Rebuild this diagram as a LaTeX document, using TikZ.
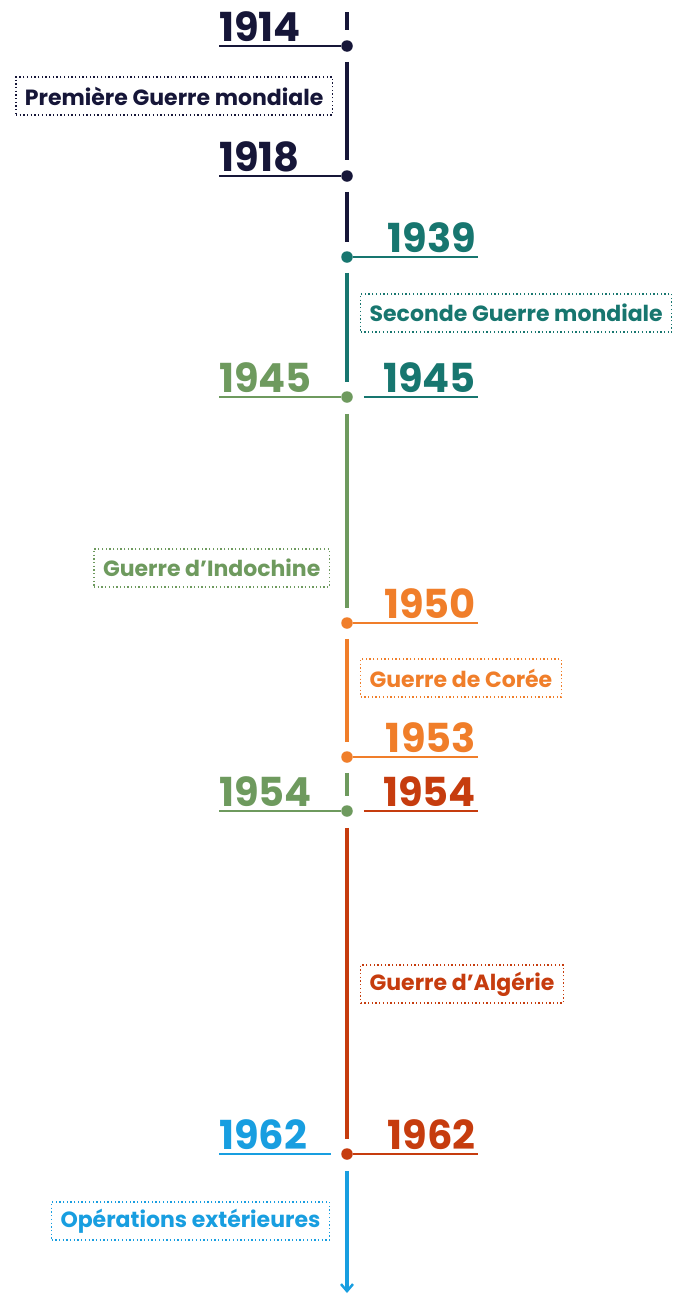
\documentclass[tikz,border=0pt]{standalone}
\usepackage{fontspec}
\setmainfont{Poppins}
\usetikzlibrary{positioning,arrows.meta}

\definecolor{marine}{HTML}{161638}
\definecolor{canard}{HTML}{17766F}
\definecolor{olive}{HTML}{6E9A5E}
\definecolor{orangec}{HTML}{F07E2A}
\definecolor{brique}{HTML}{C63C0E}
\definecolor{azur}{HTML}{189EE0}

\tikzset{
  jalon/.style={circle,fill=#1,inner sep=0pt,minimum size=11.5pt},
  axe/.style={line width=4pt,#1},
  trait/.style={line width=2.8pt,#1},
  annee/.style={text=#1,inner sep=0pt,font=\bfseries\fontsize{40}{40}\selectfont},
  periode/.style={draw=#1,text=#1,line width=1.3pt,dash pattern=on 1.3pt off 2.4pt,
    inner xsep=9pt,minimum height=38pt,font=\bfseries\fontsize{22}{22}\selectfont}
}

\begin{document}
\begin{tikzpicture}[x=1pt,y=-1pt]
    \useasboundingbox (0,0) rectangle (675,1296);

    % jalons sur l'axe
    \coordinate (haut) at (347,12);
    \node[jalon=marine] (d1914) at (347,46) {};
    \node[jalon=marine] (d1918) at (347,176) {};
    \node[jalon=canard] (d1939) at (347,257) {};
    \node[jalon=olive] (d1945) at (347,397) {};
    \node[jalon=orangec] (d1950) at (347,623) {};
    \node[jalon=orangec] (d1953) at (347,757) {};
    \node[jalon=olive] (d1954) at (347,811) {};
    \node[jalon=brique] (d1962) at (347,1154) {};
    \coordinate (bas) at (347,1293);

    % axe
    \draw[axe=marine, shorten >=10pt] (haut) -- (d1914);
    \draw[axe=marine, shorten <=10pt, shorten >=10pt] (d1914) -- (d1918);
    \draw[axe=marine, shorten <=10pt, shorten >=9pt] (d1918) -- (d1939);
    \draw[axe=canard, shorten <=10pt, shorten >=9pt] (d1939) -- (d1945);
    \draw[axe=olive, shorten <=11pt, shorten >=9pt] (d1945) -- (d1950);
    \draw[axe=orangec, shorten <=10pt, shorten >=9pt] (d1950) -- (d1953);
    \draw[axe=olive, shorten <=10pt, shorten >=9pt] (d1953) -- (d1954);
    \draw[axe=brique, shorten <=11pt, shorten >=9pt] (d1954) -- (d1962);
    \draw[axe=azur, shorten <=11pt, -{Straight Barb[length=7pt,width=12pt,line width=2.5pt]}] (d1962) -- (bas);

    % traits a gauche
    \coordinate (g1914) at (219,46);
    \coordinate (g1918) at (219,176);
    \coordinate (g1945) at (219,397);
    \coordinate (g1954) at (219,811);
    \coordinate (g1962) at (219,1154);
    \draw[trait=marine] (g1914) -- (d1914);
    \draw[trait=marine] (g1918) -- (d1918);
    \draw[trait=olive] (g1945) -- (d1945);
    \draw[trait=olive] (g1954) -- (d1954);
    \draw[trait=azur, shorten >=10pt] (g1962) -- (d1962);

    % traits a droite
    \coordinate (r1939) at (478,257);
    \coordinate (r1945) at (478,397);
    \coordinate (r1950) at (478,623);
    \coordinate (r1953) at (478,757);
    \coordinate (r1954) at (478,811);
    \coordinate (r1962) at (478,1154);
    \draw[trait=canard] (d1939) -- (r1939);
    \draw[trait=canard, shorten <=11pt] (d1945) -- (r1945);
    \draw[trait=orangec] (d1950) -- (r1950);
    \draw[trait=orangec] (d1953) -- (r1953);
    \draw[trait=brique, shorten <=11pt] (d1954) -- (r1954);
    \draw[trait=brique] (d1962) -- (r1962);

    % annees
    \node[annee=marine, above right=4pt and 0pt of g1914] (a1914) {1914};
    \node[annee=marine, above right=4pt and 0pt of g1918] (a1918) {1918};
    \node[annee=olive, above right=4pt and 0pt of g1945] (a1945g) {1945};
    \node[annee=olive, above right=4pt and 0pt of g1954] (a1954g) {1954};
    \node[annee=azur, above right=4pt and 0pt of g1962] (a1962g) {1962};
    \node[annee=canard, above left=4pt and 2pt of r1939] (a1939) {1939};
    \node[annee=canard, above left=4pt and 2pt of r1945] (a1945d) {1945};
    \node[annee=orangec, above left=4pt and 2pt of r1950] (a1950) {1950};
    \node[annee=orangec, above left=4pt and 2pt of r1953] (a1953) {1953};
    \node[annee=brique, above left=4pt and 2pt of r1954] (a1954d) {1954};
    \node[annee=brique, above left=4pt and 2pt of r1962] (a1962d) {1962};

    % periodes
    \node[periode=marine, anchor=east] (p1) at (333,96) {Première Guerre mondiale};
    \node[periode=canard, anchor=west] (p2) at (360,313) {Seconde Guerre mondiale};
    \node[periode=olive, anchor=east] (p3) at (330,568) {Guerre d’Indochine};
    \node[periode=orangec, anchor=west] (p4) at (360,678) {Guerre de Corée};
    \node[periode=brique, anchor=west] (p5) at (360,984) {Guerre d’Algérie};
    \node[periode=azur, anchor=east] (p6) at (330,1221) {Opérations extérieures};

\end{tikzpicture}
\end{document}
